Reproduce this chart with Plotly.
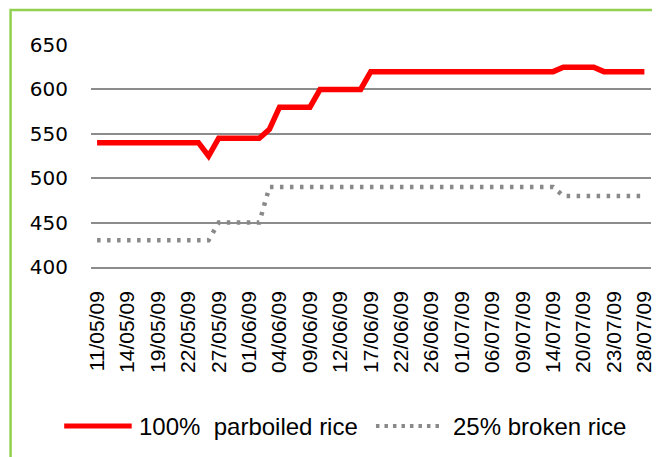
import plotly.graph_objects as go

# trading days (category axis), every third one is labelled
dates = [
    "11/05/09", "12/05/09", "13/05/09", "14/05/09", "15/05/09", "18/05/09",
    "19/05/09", "20/05/09", "21/05/09", "22/05/09", "25/05/09", "26/05/09",
    "27/05/09", "28/05/09", "29/05/09", "01/06/09", "02/06/09", "03/06/09",
    "04/06/09", "05/06/09", "08/06/09", "09/06/09", "10/06/09", "11/06/09",
    "12/06/09", "15/06/09", "16/06/09", "17/06/09", "18/06/09", "19/06/09",
    "22/06/09", "23/06/09", "24/06/09", "26/06/09", "29/06/09", "30/06/09",
    "01/07/09", "02/07/09", "03/07/09", "06/07/09", "07/07/09", "08/07/09",
    "09/07/09", "10/07/09", "13/07/09", "14/07/09", "15/07/09", "16/07/09",
    "20/07/09", "21/07/09", "22/07/09", "23/07/09", "24/07/09", "27/07/09",
    "28/07/09",
]

parboiled_100 = [
    540, 540, 540, 540, 540, 540, 540, 540, 540, 540, 540, 525,
    545, 545, 545, 545, 545, 555, 580, 580, 580, 580, 600, 600,
    600, 600, 600, 620, 620, 620, 620, 620, 620, 620, 620, 620,
    620, 620, 620, 620, 620, 620, 620, 620, 620, 620, 625, 625,
    625, 625, 620, 620, 620, 620, 620,
]

broken_25 = [
    430, 430, 430, 430, 430, 430, 430, 430, 430, 430, 430, 430,
    450, 450, 450, 450, 450, 490, 490, 490, 490, 490, 490, 490,
    490, 490, 490, 490, 490, 490, 490, 490, 490, 490, 490, 490,
    490, 490, 490, 490, 490, 490, 490, 490, 490, 490, 480, 480,
    480, 480, 480, 480, 480, 480, 480,
]

tick_labels = dates[::3]
y_ticks = [400, 450, 500, 550, 600, 650]

# page body has an 8px default margin, so the figure is drawn 8px smaller
OFF = 8
W, H = 660 - OFF, 457 - OFF
# plot box in window pixels: x 91..655, y 45..267
L, R, T, B = 91 - OFF, 660 - 655, 45 - OFF, 457 - 267
RED = "#FF0000"
GREY = "#898989"
GREEN = "#92D050"
TXT_FONT = "Liberation Sans, Arial, sans-serif"


def px_x(px):
    # window pixel -> paper x
    return (px - OFF - L) / (W - L - R)


def px_y(py):
    # window pixel -> paper y
    return (H - B - (py - OFF)) / (H - T - B)


fig = go.Figure()
fig.add_trace(go.Scatter(
    x=dates, y=parboiled_100, mode="lines", name="100%  parboiled rice",
    line=dict(color=RED, width=5.5), showlegend=False,
))
fig.add_trace(go.Scatter(
    x=dates, y=broken_25, mode="lines", name="25% broken rice",
    line=dict(color=GREY, width=4.5, dash="3.5px,6.5px"), showlegend=False,
))

# outer green frame
fig.add_shape(type="rect", xref="paper", yref="paper",
              x0=px_x(10), x1=px_x(700), y0=px_y(500), y1=px_y(10),
              line=dict(color=GREEN, width=2.5), layer="below")

# hand-made legend
leg_y = px_y(426)
fig.add_shape(type="line", xref="paper", yref="paper",
              x0=px_x(64), x1=px_x(132), y0=leg_y, y1=leg_y,
              line=dict(color=RED, width=5))
fig.add_shape(type="line", xref="paper", yref="paper",
              x0=px_x(378), x1=px_x(446), y0=leg_y, y1=leg_y,
              line=dict(color=GREY, width=4, dash="3.5px,5px"))
fig.add_annotation(xref="paper", yref="paper", x=px_x(137), y=leg_y,
                   xanchor="left", yanchor="middle", showarrow=False,
                   text="100%\u00a0 parboiled rice",
                   font=dict(family=TXT_FONT, size=24, color="black"))
fig.add_annotation(xref="paper", yref="paper", x=px_x(454), y=leg_y,
                   xanchor="left", yanchor="middle", showarrow=False,
                   text="25% broken rice",
                   font=dict(family=TXT_FONT, size=24, color="black"))

fig.update_layout(
    width=W, height=H,
    margin=dict(l=L, r=R, t=T, b=B),
    paper_bgcolor="white", plot_bgcolor="white",
    showlegend=False,
)
fig.update_xaxes(
    type="category", categoryorder="array", categoryarray=dates,
    range=[-0.6, len(dates) - 0.35],
    tickmode="array", tickvals=tick_labels, ticktext=tick_labels,
    tickangle=-90, ticklabelstandoff=14,
    tickfont=dict(family=TXT_FONT, size=21, color="black"),
    showgrid=False, zeroline=False,
    showline=True, linecolor="#8C8C8C", linewidth=1.5,
)
fig.update_yaxes(
    range=[400, 650], tickvals=y_ticks,
    tickfont=dict(family="DejaVu Sans, Verdana, sans-serif", size=20, color="black"),
    ticklabelstandoff=22,
    showgrid=True, gridcolor="#8C8C8C", gridwidth=1.5,
    zeroline=False, showline=False,
)

fig.write_html("out.html")
